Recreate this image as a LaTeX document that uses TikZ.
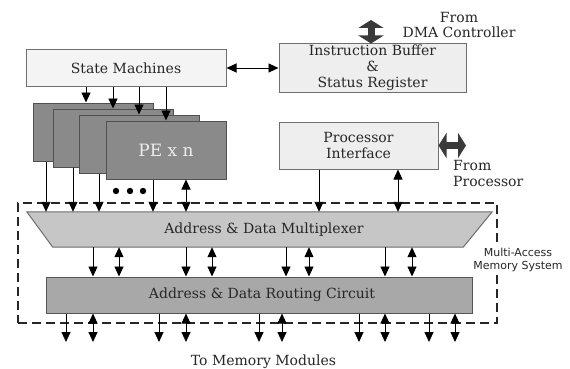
\documentclass[tikz,border=0pt]{standalone}
\usepackage{fontspec}
\setmainfont{DejaVu Serif}
\setsansfont{DejaVu Sans}
\usetikzlibrary{arrows.meta}
\definecolor{lightfill}{HTML}{F4F4F4}
\definecolor{ibfill}{HTML}{EEEEEE}
\definecolor{boxborder}{HTML}{6E6E6E}
\definecolor{pefill}{HTML}{8A8A8A}
\definecolor{peborder}{HTML}{505050}
\definecolor{muxfill}{HTML}{C6C6C6}
\definecolor{routefill}{HTML}{A8A8A8}
\definecolor{darkborder}{HTML}{555555}
\definecolor{bigarrow}{HTML}{3A3A3A}
\definecolor{txt}{HTML}{262626}
\newcommand\serifsz{\fontsize{14}{16}\selectfont}
\tikzset{
  lightbox/.style={draw=boxborder, fill=lightfill, line width=1pt, inner sep=0pt, font=\serifsz, text=txt, align=center},
  pebox/.style={draw=peborder, fill=pefill, line width=1pt, minimum width=120pt, minimum height=58pt, inner sep=0pt},
  lbl/.style={font=\serifsz, text=txt, align=center, inner sep=0pt},
  arr/.style={line width=0.9pt, -{Triangle[width=9pt,length=10pt]}},
  darr/.style={line width=0.9pt, {Triangle[width=9pt,length=10pt]}-{Triangle[width=9pt,length=10pt]}},
  bigarr/.style={line width=7pt, draw=bigarrow, {Triangle[width=25pt,length=8pt]}-{Triangle[width=25pt,length=8pt]}},
  dashbox/.style={draw=black!85, line width=1.4pt, dash pattern=on 9pt off 5pt, minimum width=479pt, minimum height=120pt, inner sep=0pt},
}
\begin{document}
\begin{tikzpicture}[x=1pt,y=-1pt]
\useasboundingbox[fill=white] (0,0) rectangle (570,369);

% top boxes
\node[lightbox, minimum width=200pt, minimum height=36pt] (sm) at (126,68) {State Machines};
\node[lightbox, fill=ibfill, minimum width=187pt, minimum height=48pt] (ib) at (372.5,68) {Instruction Buffer\\\&\\Status Register};
\node[lightbox, fill=ibfill, minimum width=159pt, minimum height=47pt] (pi) at (358.5,145.5) {Processor\\Interface};

% PE stack
\node[pebox] (pe1) at (93,132) {};
\node[pebox] (pe2) at (113,138) {};
\node[pebox] (pe3) at (139,144) {};
\node[pebox, font=\fontsize{17}{19}\selectfont, text=white!93!black] (pe4) at (166,150) {PE x n};
\foreach \i/\xx in {1/116,2/130,3/143}
  \fill (\xx,191) circle (3.2pt) node (dot\i) {};

% memory system
\node[dashbox] (mams) at (257.5,263) {};
\node[inner sep=0pt] (mux) at (259.5,229.5) [minimum width=465pt, minimum height=35pt] {};
\draw[draw=boxborder, fill=muxfill, line width=1pt] (mux.north west) -- (mux.north east) -- ([xshift=-29pt]mux.south east) -- ([xshift=26pt]mux.south west) -- cycle;
\node[lbl] (muxt) at (264,229.5) {Address \& Data Multiplexer};
\node[draw=darkborder, fill=routefill, line width=1pt, minimum width=426pt, minimum height=36pt, inner sep=0pt] (rt) at (259,295) {};
\node[lbl] (rtt) at (262,295) {Address \& Data Routing Circuit};
\node[fill=white, inner sep=1pt, font=\sffamily\fontsize{11}{13}\selectfont, text=txt, align=center] (mamsl) at (518,259.5) {Multi-Access\\Memory System};

% external labels
\node[lbl, font=\fontsize{14}{15}\selectfont] (dmal) at (459,24.5) {From\\DMA Controller};
\node[lbl, align=left, anchor=west] (procl) at (453,173) {From\\Processor};
\node[lbl] (tomem) at (263.5,362) {To Memory Modules};
\coordinate (dmaend) at (371,20);
\coordinate (procend) at (466,145.5);
\coordinate (out) at (0,342);

% big arrows
\draw[bigarr] (dmaend) -- (371,0 |- ib.north);
\draw[bigarr] (pi.east) -- (procend);

% connectors
\draw[darr] (sm.east) -- (ib.west);
\draw[arr] (86,0 |- sm.south) -- (86,0 |- pe1.north);
\draw[arr] (113,0 |- sm.south) -- (113,0 |- pe2.north);
\draw[arr] (139,0 |- sm.south) -- (139,0 |- pe3.north);
\draw[arr] (166,0 |- sm.south) -- (166,0 |- pe4.north);

\draw[arr] (46,0 |- pe1.south) -- (46,0 |- mux.north);
\draw[arr] (73,0 |- pe2.south) -- (73,0 |- mux.north);
\draw[arr] (99,0 |- pe3.south) -- (99,0 |- mux.north);
\draw[arr] (153,0 |- pe4.south) -- (153,0 |- mux.north);
\draw[darr] (186,0 |- pe4.south) -- (186,0 |- mux.north);
\draw[arr] (319,0 |- pi.south) -- (319,0 |- mux.north);
\draw[darr] (398,0 |- pi.south) -- (398,0 |- mux.north);

\foreach \xx in {93,186,286,385}
  \draw[arr] (\xx,0 |- mux.south) -- (\xx,0 |- rt.north);
\foreach \xx in {119,212,309,412}
  \draw[darr] (\xx,0 |- mux.south) -- (\xx,0 |- rt.north);

\foreach \xx in {66,159,259,359,429}
  \draw[arr] (\xx,0 |- rt.south) -- (\xx,0 |- out);
\foreach \xx in {93,186,282,385,455}
  \draw[darr] (\xx,0 |- rt.south) -- (\xx,0 |- out);
\end{tikzpicture}
\end{document}
